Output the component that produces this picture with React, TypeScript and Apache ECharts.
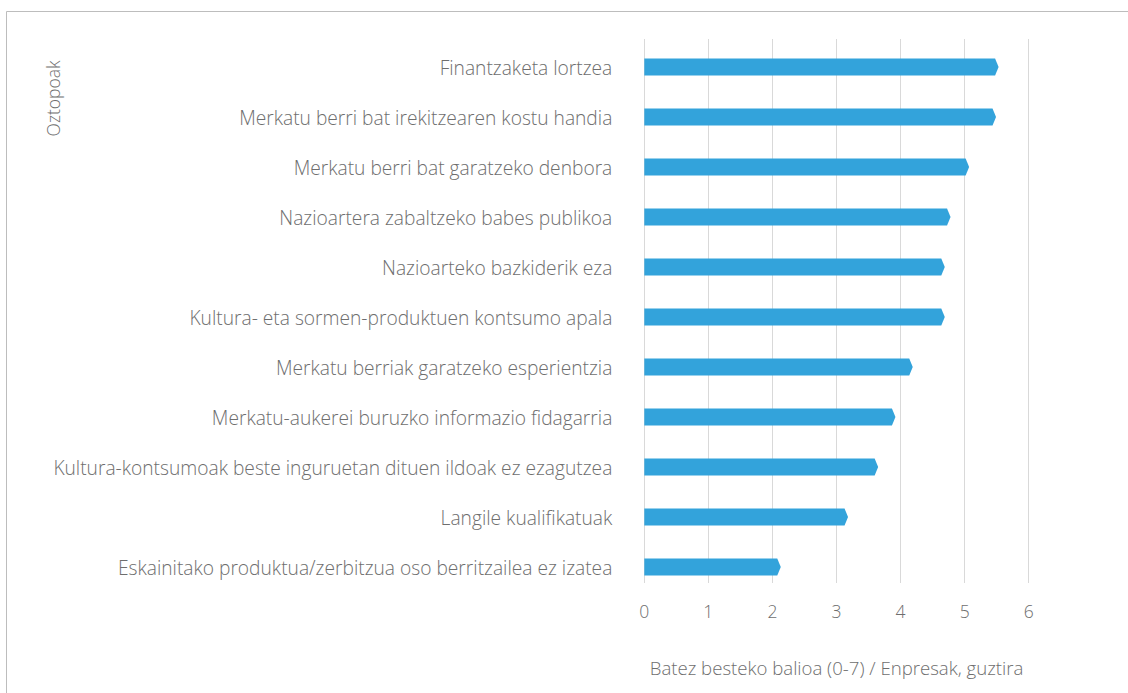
import React, { useEffect, useRef } from "react";
import * as echarts from "echarts";

const categories = [
  "Finantzaketa lortzea",
  "Merkatu berri bat irekitzearen kostu handia",
  "Merkatu berri bat garatzeko denbora",
  "Nazioartera zabaltzeko babes publikoa",
  "Nazioarteko bazkiderik eza",
  "Kultura- eta sormen-produktuen kontsumo apala",
  "Merkatu berriak garatzeko esperientzia",
  "Merkatu-aukerei buruzko informazio fidagarria",
  "Kultura-kontsumoak beste inguruetan dituen ildoak ez ezagutzea",
  "Langile kualifikatuak",
  "Eskainitako produktua/zerbitzua oso berritzailea ez izatea",
];
const values = [5.53, 5.49, 5.07, 4.78, 4.69, 4.69, 4.19, 3.92, 3.65, 3.18, 2.13];
const xTicks = [0, 1, 2, 3, 4, 5, 6];
const xAxisName = "Batez besteko balioa (0-7) / Enpresak, guztira";
const yAxisName = "Oztopoak";

const FONT = "'Open Sans', sans-serif";
const BAR_COLOR = "#33a3db";
const TEXT = "#6e6e6e";

export default function App() {
  const ref = useRef<HTMLDivElement>(null);
  useEffect(() => {
    if (!ref.current) return;
    const chart = echarts.init(ref.current, undefined, { renderer: "svg" });
    const option: any = {
      animation: false,
      backgroundColor: "#ffffff",
      textStyle: { fontFamily: FONT },
      grid: [
        { left: 644.3, width: 384.4, top: 39, height: 544 },
        { left: 644.3, width: 384.4, top: 42, height: 550 },
      ],
      xAxis: [
        {
          type: "value",
          gridIndex: 0,
          min: xTicks[0],
          max: xTicks[xTicks.length - 1],
          interval: 1,
          axisLine: { show: false },
          axisTick: { show: false },
          splitLine: { show: true, lineStyle: { color: "#d9d9d9", width: 1 } },
          axisLabel: {
            margin: 19,
            color: TEXT,
            fontSize: 17.5,
            fontWeight: 300,
            fontFamily: FONT,
            formatter: (v: number) => String(v),
          },
          name: xAxisName,
          nameLocation: "middle",
          nameGap: 75,
          nameTextStyle: { color: TEXT, fontSize: 18.6, fontWeight: 300, fontFamily: FONT },
        },
        {
          type: "value",
          gridIndex: 1,
          min: xTicks[0],
          max: xTicks[xTicks.length - 1],
          interval: 1,
          show: false,
        },
      ],
      yAxis: [
        {
          type: "category",
          gridIndex: 0,
          data: categories,
          inverse: true,
          show: false,
        },
        {
          type: "category",
          gridIndex: 1,
          data: categories,
          inverse: true,
          axisLine: { show: false },
          axisTick: { show: false },
          splitLine: { show: false },
          axisLabel: {
            margin: 32,
            color: TEXT,
            fontSize: 19.2,
            fontWeight: 300,
            fontFamily: FONT,
          },
        },
      ],
      graphic: [
        {
          type: "rect",
          shape: { x: 6.5, y: 11.5, width: 1200, height: 800 },
          style: { fill: "none", stroke: "#bdbdbd", lineWidth: 1 },
          silent: true,
        },
        {
          type: "text",
          x: 53,
          y: 98.5,
          rotation: Math.PI / 2,
          style: {
            text: yAxisName,
            fill: TEXT,
            font: `300 17.5px ${FONT}`,
            align: "center",
            verticalAlign: "middle",
          },
        },
      ],
      series: [
        {
          type: "custom",
          xAxisIndex: 1,
          yAxisIndex: 1,
          data: values.map((v, i) => [v, i]),
          encode: { x: 0, y: 1 },
          renderItem: (params: any, api: any) => {
            const v = api.value(0);
            const idx = api.value(1);
            const start = api.coord([0, idx]);
            const end = api.coord([v, idx]);
            const h = 17;
            const tip = 3.5;
            const y = end[1];
            const x0 = start[0];
            const xt = end[0];
            const xb = xt - tip;
            return {
              type: "polygon",
              shape: {
                points: [
                  [x0, y - h / 2],
                  [xb, y - h / 2],
                  [xt, y],
                  [xb, y + h / 2],
                  [x0, y + h / 2],
                ],
              },
              style: { fill: BAR_COLOR },
            };
          },
        },
      ],
    };
    chart.setOption(option);
    return () => chart.dispose();
  }, []);
  return (
    <div
      ref={ref}
      style={{ position: "fixed", left: 0, top: 0, width: 1128, height: 693 }}
    />
  );
}
